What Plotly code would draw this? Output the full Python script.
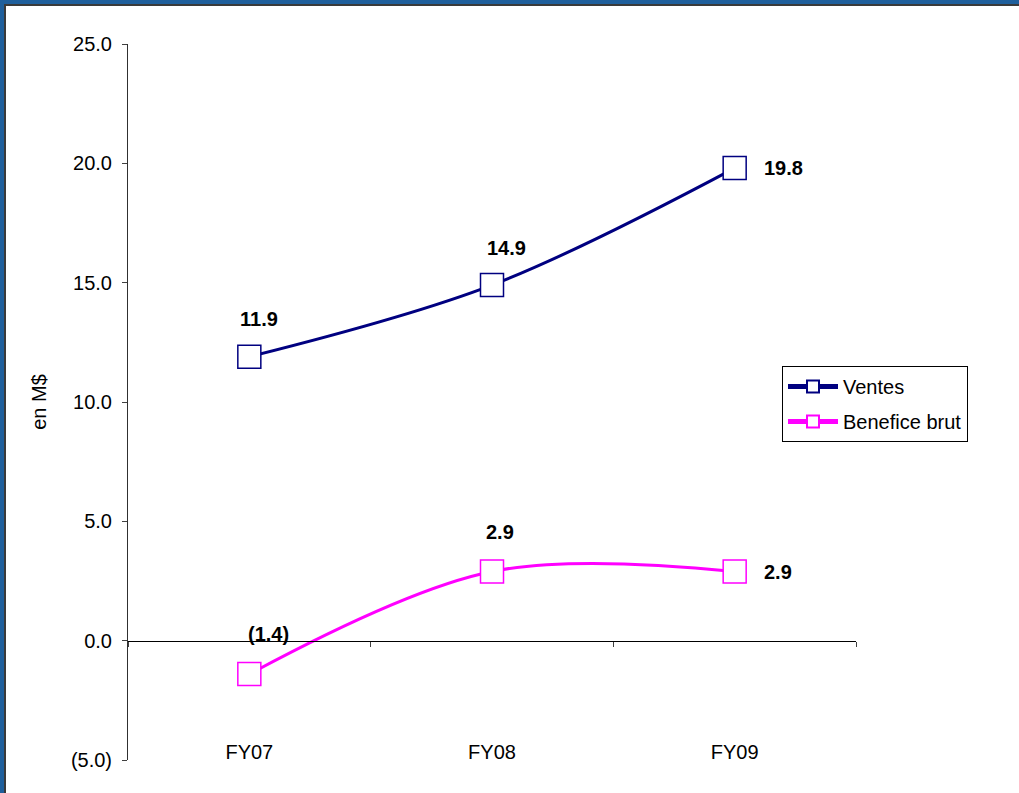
import plotly.graph_objects as go

# ---- data ----
categories = ["FY07", "FY08", "FY09"]
ventes = [11.9, 14.9, 19.8]
benefice = [-1.4, 2.9, 2.9]
y_tickvals = [-5, 0, 5, 10, 15, 20, 25]

# label placement (pixel offsets from each point)
ventes_label_shift = [(10, 38), (14, 37), (49, 0)]
benefice_label_shift = [(19, 40), (8, 39), (43, -1)]

NAVY = "#000080"
MAGENTA = "#FF00FF"
FONT = "Liberation Sans, Arial, sans-serif"

W, H = 1019, 793
ML, MR, MT, MB = 128, 163, 44, 33
Y_MIN, Y_MAX = -5, 25


def fmt(v):
    return f"({abs(v):.1f})" if v < 0 else f"{v:.1f}"


fig = go.Figure()

for name, vals, color in [("Ventes", ventes, NAVY), ("Benefice brut", benefice, MAGENTA)]:
    fig.add_trace(go.Scatter(
        x=categories, y=vals, name=name, mode="lines+markers",
        legendgroup=name,
        line=dict(color=color, width=3, shape="spline", smoothing=1),
        marker=dict(symbol="square", size=23, color="white",
                    line=dict(color=color, width=1.5)),
        hoverinfo="skip",
    ))

# helper trace so the zero-crossing axis is drawn
fig.add_trace(go.Scatter(x=categories, y=[None] * 3, xaxis="x2", showlegend=False,
                         hoverinfo="skip", mode="markers"))

annotations = []
for vals, shifts in [(ventes, ventes_label_shift), (benefice, benefice_label_shift)]:
    for c, v, (dx, dy) in zip(categories, vals, shifts):
        annotations.append(dict(
            x=c, y=v, xref="x", yref="y", text=f"<b>{fmt(v)}</b>",
            showarrow=False, xshift=dx, yshift=dy,
            font=dict(family=FONT, size=20, color="black"),
        ))

pw = W - ML - MR
ph = H - MT - MB
shapes = [
    # blue frame along the left and top of the page
    dict(type="rect", xref="paper", yref="paper", layer="below",
         x0=(0 - ML) / pw, x1=(4 - ML) / pw, y0=-MB / ph - 0.01, y1=1 + MT / ph + 0.01,
         line=dict(width=0), fillcolor="#1F5F9C"),
    dict(type="rect", xref="paper", yref="paper", layer="below",
         x0=(0 - ML) / pw, x1=1 + MR / pw + 0.01, y0=1 + (MT - 4) / ph, y1=1 + MT / ph + 0.01,
         line=dict(width=0), fillcolor="#1F5F9C"),
    dict(type="rect", xref="paper", yref="paper", layer="below",
         x0=(4 - ML) / pw, x1=(6 - ML) / pw, y0=-MB / ph - 0.01, y1=1 + (MT - 4) / ph,
         line=dict(width=0), fillcolor="#3A3A3A"),
    dict(type="rect", xref="paper", yref="paper", layer="below",
         x0=(4 - ML) / pw, x1=1 + MR / pw + 0.01, y0=1 + (MT - 6) / ph, y1=1 + (MT - 4) / ph,
         line=dict(width=0), fillcolor="#3A3A3A"),
]

fig.update_layout(
    width=W, height=H,
    margin=dict(l=ML, r=MR, t=MT, b=MB, autoexpand=False),
    paper_bgcolor="white", plot_bgcolor="white",
    font=dict(family=FONT, size=20, color="black"),
    showlegend=True,
    legend=dict(
        x=(782 - ML) / pw, y=1 - (366 - MT) / ph, xanchor="left", yanchor="top",
        bgcolor="white", bordercolor="black", borderwidth=1,
        font=dict(family=FONT, size=20, color="black"),
        traceorder="grouped", tracegroupgap=6, itemsizing="constant",
        itemwidth=50,
    ),
    xaxis=dict(
        type="category", categoryorder="array", categoryarray=categories,
        range=[-0.5, 2.5], showline=False, showgrid=False, zeroline=False,
        ticks="", ticklabelstandoff=-22,
        tickfont=dict(family=FONT, size=20, color="black"),
        fixedrange=True,
    ),
    xaxis2=dict(
        type="category", categoryorder="array", categoryarray=categories,
        overlaying="x", anchor="free", position=(0 - Y_MIN) / (Y_MAX - Y_MIN),
        range=[-0.5, 2.5], side="bottom",
        showline=True, linecolor="black", linewidth=1,
        ticks="outside", tickson="boundaries", ticklen=5, tickcolor="#404040",
        showticklabels=False, showgrid=False, zeroline=False,
    ),
    yaxis=dict(
        range=[Y_MIN, Y_MAX], tickvals=y_tickvals, ticktext=[fmt(v) for v in y_tickvals],
        showline=True, linecolor="#303030", linewidth=1,
        ticks="outside", ticklen=5, tickcolor="#404040",
        showgrid=False, zeroline=False, ticklabelstandoff=6,
        tickfont=dict(family=FONT, size=20, color="black"),
        title=dict(text="en M$", standoff=18, font=dict(family=FONT, size=20, color="black")),
        fixedrange=True,
    ),
    annotations=annotations,
    shapes=shapes,
)

fig.write_html("out.html")
